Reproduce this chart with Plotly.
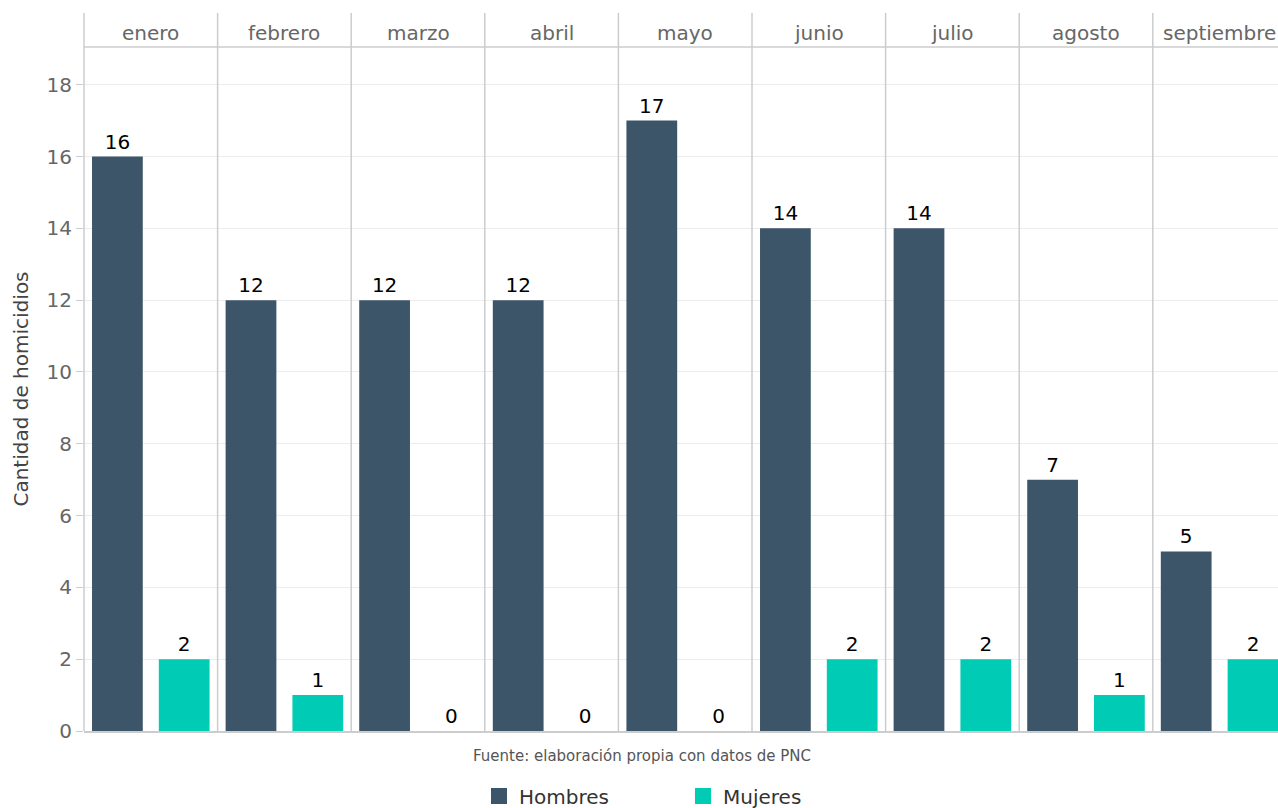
import plotly.graph_objects as go
from plotly.subplots import make_subplots

months = ["enero", "febrero", "marzo", "abril", "mayo", "junio", "julio", "agosto", "septiembre"]
hombres = [16, 12, 12, 12, 17, 14, 14, 7, 5]
mujeres = [2, 1, 0, 0, 0, 2, 2, 1, 2]
sexes = ["Hombres", "Mujeres"]
colors = {"Hombres": "#3d5568", "Mujeres": "#00cbb5"}
yticks = list(range(0, 19, 2))

W, H = 1278, 808
L, R, T, B = 84, 0, 47, 77
plot_h = H - T - B
plot_w = W - L - R
panel_w = 133.6
last_w = plot_w - 8 * panel_w

fig = make_subplots(rows=1, cols=9, shared_yaxes=True, horizontal_spacing=0,
                    column_widths=[panel_w] * 8 + [last_w])

for i, m in enumerate(months):
    vals = [hombres[i], mujeres[i]]
    fig.add_trace(go.Bar(
        x=sexes, y=vals, width=0.76,
        marker=dict(color=[colors[s] for s in sexes], line=dict(width=0)),
        text=[str(v) for v in vals], textposition="outside",
        textfont=dict(size=20, color="#000000"), cliponaxis=False,
        showlegend=False, hoverinfo="skip"), row=1, col=i + 1)
    xr = [-0.5, 1.5] if i < 8 else [-0.5, -0.5 + 2 * last_w / panel_w]
    fig.update_xaxes(row=1, col=i + 1, type="category", categoryarray=sexes,
                     range=xr, showticklabels=False, showgrid=False, zeroline=False,
                     showline=True, linecolor="#cccccc", linewidth=1.5, ticks="")
    xa = "x" if i == 0 else f"x{i+1}"
    fig.add_annotation(x=0.5, xref=xa, y=1 + 14 / plot_h, yref="paper",
                       text=m, showarrow=False, xanchor="center", yanchor="middle",
                       font=dict(size=20, color="#666666"))

for s in sexes:
    fig.add_trace(go.Scatter(x=[None], y=[None], mode="markers", name=s,
                             marker=dict(symbol="square", size=24, color=colors[s])),
                  row=1, col=1)

fig.update_yaxes(range=[0, 19.05], tickvals=yticks, showgrid=True, gridcolor="#ececec",
                 gridwidth=1, zeroline=False, showline=False)
fig.update_yaxes(row=1, col=1, ticks="outside", ticklen=7, tickcolor="#cccccc",
                 tickfont=dict(size=20, color="#666666"),
                 title=dict(text="Cantidad de homicidios", standoff=12,
                            font=dict(size=20, color="#444444")))

shapes = []
top = 1 + 34 / plot_h
for i in range(9):
    xa = fig.layout["xaxis" if i == 0 else f"xaxis{i+1}"]
    x0 = xa.domain[0]
    shapes.append(dict(type="line", xref="paper", yref="paper", x0=x0, x1=x0, y0=0, y1=top,
                       line=dict(color="#cccccc", width=1.5)))
shapes.append(dict(type="line", xref="paper", yref="paper", x0=0, x1=1, y0=1, y1=1,
                   line=dict(color="#cccccc", width=1.5)))
fig.update_layout(shapes=shapes)

fig.add_annotation(text="Fuente: elaboración propia con datos de PNC", xref="paper", yref="paper",
                   x=(642 - L) / plot_w, y=-(756 - 731) / plot_h, showarrow=False,
                   xanchor="center", yanchor="middle", font=dict(size=15, color="#555555"))

fig.update_layout(
    width=W, height=H, margin=dict(l=L, r=R, t=T, b=B, autoexpand=False),
    plot_bgcolor="white", paper_bgcolor="white",
    font=dict(family="DejaVu Sans", size=20, color="#333333"),
    legend=dict(orientation="h", x=(683 - L) / plot_w, xanchor="center",
                y=-(796 - 731) / plot_h, yanchor="middle", itemsizing="trace",
                entrywidth=159, font=dict(size=20, color="#333333")),
)

fig.write_html("out.html", config={"displayModeBar": False},
               post_script="document.body.style.margin='0';document.body.style.overflow='hidden';")
